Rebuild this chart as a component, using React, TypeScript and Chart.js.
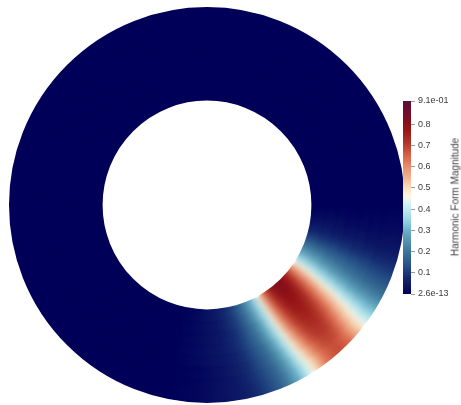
import React, { useEffect, useRef } from 'react';
import { Chart, registerables } from 'chart.js';

Chart.register(...registerables);

// ---- data ----
// angular positions (degrees, clockwise from east) of the sampled field values
const angleStops = [0, 8, 13, 17, 21, 25, 28, 31, 34, 37, 41, 44, 47, 50, 53, 57, 60, 62, 65, 68, 72, 76, 80, 86, 94, 105, 360];
// field magnitude sampled on eight rings, outer ring first
const ring1 = [0.0, 0.02, 0.04, 0.07, 0.11, 0.16, 0.21, 0.28, 0.36, 0.45, 0.57, 0.65, 0.68, 0.67, 0.62, 0.48, 0.37, 0.3, 0.22, 0.16, 0.11, 0.07, 0.05, 0.03, 0.01, 0.0, 0.0];
const ring2 = [0.0, 0.02, 0.04, 0.07, 0.12, 0.17, 0.22, 0.29, 0.38, 0.47, 0.59, 0.67, 0.7, 0.69, 0.64, 0.51, 0.39, 0.31, 0.23, 0.17, 0.12, 0.08, 0.05, 0.03, 0.01, 0.0, 0.0];
const ring3 = [0.0, 0.02, 0.04, 0.08, 0.13, 0.18, 0.23, 0.3, 0.4, 0.5, 0.62, 0.69, 0.72, 0.71, 0.67, 0.54, 0.41, 0.33, 0.24, 0.18, 0.13, 0.08, 0.06, 0.03, 0.01, 0.0, 0.0];
const ring4 = [0.0, 0.02, 0.05, 0.08, 0.14, 0.19, 0.25, 0.32, 0.42, 0.53, 0.65, 0.71, 0.74, 0.73, 0.69, 0.57, 0.43, 0.35, 0.26, 0.19, 0.14, 0.09, 0.06, 0.04, 0.02, 0.0, 0.0];
const ring5 = [0.0, 0.02, 0.05, 0.09, 0.15, 0.21, 0.26, 0.34, 0.44, 0.55, 0.67, 0.73, 0.76, 0.75, 0.71, 0.6, 0.45, 0.37, 0.28, 0.21, 0.15, 0.1, 0.07, 0.04, 0.02, 0.0, 0.0];
const ring6 = [0.0, 0.03, 0.05, 0.1, 0.16, 0.22, 0.28, 0.36, 0.46, 0.58, 0.69, 0.75, 0.78, 0.77, 0.73, 0.62, 0.47, 0.39, 0.29, 0.22, 0.16, 0.1, 0.07, 0.04, 0.02, 0.0, 0.0];
const ring7 = [0.0, 0.03, 0.06, 0.1, 0.17, 0.24, 0.3, 0.38, 0.48, 0.6, 0.71, 0.77, 0.8, 0.79, 0.75, 0.64, 0.49, 0.4, 0.31, 0.24, 0.17, 0.11, 0.08, 0.04, 0.02, 0.0, 0.0];
const ring8 = [0.0, 0.03, 0.06, 0.11, 0.18, 0.25, 0.31, 0.39, 0.49, 0.61, 0.73, 0.79, 0.82, 0.81, 0.77, 0.66, 0.51, 0.42, 0.32, 0.25, 0.18, 0.12, 0.08, 0.05, 0.02, 0.0, 0.0];
const rings = [ring1, ring2, ring3, ring4, ring5, ring6, ring7, ring8];

const rangeMin = 2.6e-13;
const rangeMax = 0.91;
const barTickValues = [2.6e-13, 0.1, 0.2, 0.3, 0.4, 0.5, 0.6, 0.7, 0.8, 0.91];
const barTickLabels = ['2.6e-13', '0.1', '0.2', '0.3', '0.4', '0.5', '0.6', '0.7', '0.8', '9.1e-01'];
const colorBarTitle = 'Harmonic Form Magnitude';

// ---- colour map (Cool to Warm, extended) ----
const CMAP: number[][] = [
  [0, 0, 0, 0.34902], [0.03125, 0.039216, 0.062745, 0.380392], [0.0625, 0.062745, 0.117647, 0.411765],
  [0.09375, 0.090196, 0.184314, 0.45098], [0.125, 0.12549, 0.262745, 0.501961], [0.15625, 0.160784, 0.337255, 0.541176],
  [0.1875, 0.2, 0.396078, 0.568627], [0.21875, 0.239216, 0.454902, 0.6], [0.25, 0.286275, 0.521569, 0.65098],
  [0.28125, 0.337255, 0.592157, 0.701961], [0.3125, 0.388235, 0.654902, 0.74902], [0.34375, 0.466667, 0.737255, 0.819608],
  [0.375, 0.572549, 0.819608, 0.878431], [0.40625, 0.654902, 0.866667, 0.909804], [0.4375, 0.752941, 0.917647, 0.941176],
  [0.46875, 0.823529, 0.956863, 0.968627], [0.5, 0.988235, 0.960784, 0.901961], [0.52, 0.988235, 0.945098, 0.85098],
  [0.54, 0.980392, 0.898039, 0.784314], [0.5625, 0.968627, 0.835294, 0.698039], [0.59375, 0.94902, 0.733333, 0.588235],
  [0.625, 0.929412, 0.65098, 0.509804], [0.65625, 0.909804, 0.564706, 0.435294], [0.6875, 0.878431, 0.458824, 0.352941],
  [0.71875, 0.839216, 0.388235, 0.286275], [0.75, 0.760784, 0.294118, 0.211765], [0.78125, 0.701961, 0.211765, 0.168627],
  [0.8125, 0.65098, 0.156863, 0.129412], [0.84375, 0.6, 0.094118, 0.094118], [0.875, 0.54902, 0.066667, 0.098039],
  [0.90625, 0.501961, 0.05098, 0.12549], [0.9375, 0.45098, 0.054902, 0.172549], [0.96875, 0.4, 0.054902, 0.192157],
  [1, 0.34902, 0.070588, 0.211765],
];

function cmap(x: number): string {
  const t = Math.max(0, Math.min(1, x));
  for (let i = 0; i < CMAP.length - 1; i++) {
    const a = CMAP[i], b = CMAP[i + 1];
    if (t <= b[0]) {
      const f = b[0] === a[0] ? 0 : (t - a[0]) / (b[0] - a[0]);
      const r = Math.round((a[1] + (b[1] - a[1]) * f) * 255);
      const g = Math.round((a[2] + (b[2] - a[2]) * f) * 255);
      const bl = Math.round((a[3] + (b[3] - a[3]) * f) * 255);
      return `rgb(${r},${g},${bl})`;
    }
  }
  const l = CMAP[CMAP.length - 1];
  return `rgb(${Math.round(l[1] * 255)},${Math.round(l[2] * 255)},${Math.round(l[3] * 255)})`;
}

function ringFill(context: any): any {
  const chart = context.chart;
  const area = chart.chartArea;
  const values = rings[context.datasetIndex];
  if (!area || !values) return cmap(0);
  const cx = (area.left + area.right) / 2;
  const cy = (area.top + area.bottom) / 2;
  const g = chart.ctx.createConicGradient(0, cx, cy);
  const sub = 8;
  for (let i = 0; i < angleStops.length - 1; i++) {
    const a0 = angleStops[i], a1 = angleStops[i + 1];
    const v0 = values[i], v1 = values[i + 1];
    for (let s = 0; s < sub; s++) {
      const t = s / sub;
      g.addColorStop((a0 + (a1 - a0) * t) / 360, cmap((v0 + (v1 - v0) * t) / rangeMax));
    }
  }
  g.addColorStop(1, cmap(values[values.length - 1] / rangeMax));
  return g;
}

function barFill(context: any): any {
  const chart = context.chart;
  const area = chart.chartArea;
  if (!area) return cmap(0);
  const g = chart.ctx.createLinearGradient(0, area.bottom, 0, area.top);
  CMAP.forEach((c) => g.addColorStop(c[0], cmap(c[0])));
  return g;
}

// smooths the ring-to-ring steps: redraws the library's arcs blurred, clipped to the annulus
const smoothShading = {
  id: 'smoothShading',
  afterDatasetsDraw(chart: any) {
    const first = chart.getDatasetMeta(0).data[0];
    const last = chart.getDatasetMeta(chart.data.datasets.length - 1).data[0];
    if (!first || !last) return;
    const ctx = chart.ctx;
    ctx.save();
    ctx.beginPath();
    ctx.arc(first.x, first.y, first.outerRadius, 0, Math.PI * 2);
    ctx.arc(first.x, first.y, last.innerRadius, 0, Math.PI * 2, true);
    ctx.clip();
    ctx.filter = 'blur(5px)';
    for (let i = chart.data.datasets.length - 1; i >= 0; i--) {
      chart.getDatasetMeta(i).controller.draw();
    }
    ctx.restore();
  },
};

const FONT = "'Liberation Sans', Arial, sans-serif";

export default function App() {
  const ringRef = useRef<HTMLCanvasElement>(null);
  const barRef = useRef<HTMLCanvasElement>(null);

  useEffect(() => {
    const ring = new Chart(ringRef.current as HTMLCanvasElement, {
      type: 'doughnut',
      data: {
        labels: ['field'],
        datasets: rings.map((_, i) => ({
          label: `ring ${i + 1}`,
          data: [1],
          backgroundColor: ringFill,
          borderColor: ringFill,
          borderWidth: 2,
          hoverOffset: 0,
          offset: 0,
        })),
      },
      options: {
        responsive: false,
        maintainAspectRatio: false,
        animation: false,
        events: [],
        cutout: '53.5%',
        rotation: 0,
        layout: { padding: 0 },
        plugins: { legend: { display: false }, tooltip: { enabled: false } },
      } as any,
      plugins: [smoothShading],
    });

    const bar = new Chart(barRef.current as HTMLCanvasElement, {
      type: 'bar',
      data: {
        labels: [''],
        datasets: [
          {
            label: colorBarTitle,
            data: [[rangeMin, rangeMax]] as any,
            backgroundColor: barFill,
            borderWidth: 0,
            barPercentage: 1,
            categoryPercentage: 1,
          },
        ],
      },
      options: {
        responsive: false,
        maintainAspectRatio: false,
        animation: false,
        events: [],
        layout: { padding: { left: 3, top: 11, bottom: 16, right: 0 } },
        plugins: { legend: { display: false }, tooltip: { enabled: false } },
        scales: {
          x: { display: false },
          y: {
            position: 'right',
            min: rangeMin,
            max: rangeMax,
            afterBuildTicks: (s: any) => {
              s.ticks = barTickValues.map((v) => ({ value: v }));
            },
            afterFit: (s: any) => {
              s.width = 50;
            },
            ticks: {
              autoSkip: false,
              padding: 3,
              color: '#3a3a3a',
              font: { size: 9, family: FONT },
              callback: (v: any) => {
                const idx = barTickValues.findIndex((t) => Math.abs(t - Number(v)) < 1e-9);
                return idx >= 0 ? barTickLabels[idx] : '';
              },
            },
            grid: { drawOnChartArea: false, drawTicks: true, tickLength: 4, color: '#9a9a9a' },
            border: { display: false },
          },
        },
      } as any,
    });

    return () => {
      ring.destroy();
      bar.destroy();
    };
  }, []);

  return (
    <div style={{ position: 'fixed', left: 0, top: 0, width: 461, height: 405, background: '#fff', overflow: 'hidden' }}>
      <canvas ref={ringRef} width={396} height={396} style={{ position: 'absolute', left: 9, top: 7, width: 396, height: 396 }} />
      <canvas ref={barRef} width={61} height={220} style={{ position: 'absolute', left: 400, top: 90, width: 61, height: 220 }} />
      <div
        style={{
          position: 'absolute',
          left: 455,
          top: 197,
          transform: 'translate(-50%, -50%) rotate(-90deg)',
          font: `10px ${FONT}`,
          color: '#444',
          whiteSpace: 'nowrap',
        }}
      >
        {colorBarTitle}
      </div>
    </div>
  );
}
